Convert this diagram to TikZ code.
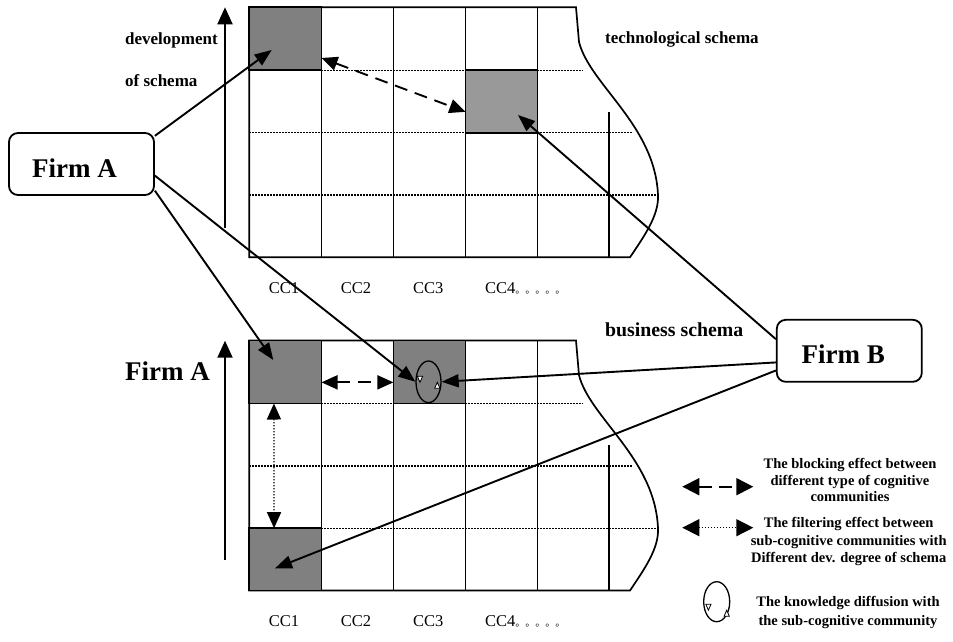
\documentclass[tikz,border=0pt]{standalone}
\usepackage{fontspec}
\setmainfont{Liberation Serif}
\newfontfamily\cjk{Noto Sans CJK SC}
\usetikzlibrary{arrows.meta,calc,shapes.geometric}
\definecolor{cdark}{gray}{0.5}
\definecolor{clight}{gray}{0.6}
\newcommand\schemagrid[1]{%
 \begin{scope}[shift={(0,#1)}]
  \draw[rowdots] (249.3,70.3) -- (582.7,70.3);
  \draw[rowdots] (249.3,132.7) -- (631.7,132.7);
  \draw[rowdots] (249.3,195) -- (656.7,195);
  \draw[gl] (576,7.3) -- (249.3,7.3) -- (249.3,257.3) -- (630,257.3)
     .. controls (645,235) and (659,215) .. (658,195)
     .. controls (655,125) and (590,85) .. (579,42) -- cycle;
  \foreach \cx in {321.5,393.5,465.5,537.5} \draw[gl] (\cx,7.3) -- (\cx,257.3);
  \draw[gl] (609.3,111.7) -- (609.3,257.3);
 \end{scope}}
% small open arrowheads of the diffusion symbol: #1 centre,
% #2,#3 tip of the downward one, #4,#5 tip of the upward one (offsets)
\newcommand\difftris[5]{%
  \draw[difftri] ($(#1)+(#2,#3)+(-2.6,-6)$) -- ($(#1)+(#2,#3)$) -- ($(#1)+(#2,#3)+(2.6,-6)$) -- cycle;
  \draw[difftri] ($(#1)+(#4,#5)+(-2.6,6)$) -- ($(#1)+(#4,#5)$) -- ($(#1)+(#4,#5)+(2.6,6)$) -- cycle;}
\begin{document}
\begin{tikzpicture}[x=1pt,y=-1pt,
  gl/.style={line width=1.7pt, line join=miter},
  rowdots/.style={line width=1.2pt, dash pattern=on 1.2pt off 1.8pt},
  cellbox/.style={draw, line width=1.7pt, inner sep=0pt, outer sep=0pt, minimum width=72.2pt, minimum height=63pt},
  firmbox/.style={draw, line width=1.8pt, rounded corners=9pt, inner sep=0pt, minimum width=145pt, minimum height=62pt, font=\fontsize{27}{30}\selectfont\bfseries},
  firmlbl/.style={inner sep=0pt, font=\fontsize{27}{30}\selectfont\bfseries},
  lbl/.style={inner sep=0pt, font=\fontsize{17}{20}\selectfont\bfseries},
  cclbl/.style={inner sep=0pt, anchor=base, font=\fontsize{16.5}{18}\selectfont},
  legtxt/.style={inner sep=0pt, align=center},
  conn/.style={line width=1.9pt, -{Triangle[length=17pt,width=13pt]}},
  axisarrow/.style={line width=1.9pt, -{Triangle[length=17pt,width=15pt]}},
  block/.style={line width=1.9pt, dash pattern=on 13pt off 8pt, {Triangle[length=16pt,width=14pt]}-{Triangle[length=16pt,width=14pt]}},
  filt/.style={line width=1.4pt, dash pattern=on 1.2pt off 1.8pt, {Triangle[length=16pt,width=14pt]}-{Triangle[length=16pt,width=14pt]}},
  blocklg/.style={line width=1.9pt, dash pattern=on 13pt off 7pt, {Triangle[length=17pt,width=17pt]}-{Triangle[length=17pt,width=17pt]}},
  filtlg/.style={line width=1.4pt, dash pattern=on 1.2pt off 1.8pt, {Triangle[length=17pt,width=17pt]}-{Triangle[length=17pt,width=17pt]}},
  diffell/.style={ellipse, draw, line width=1.3pt, inner sep=0pt},
  difftri/.style={draw, fill=white, line width=0.8pt, line join=miter}
]
\useasboundingbox (0,0) rectangle (953,642);

% grids
\schemagrid{0}
\schemagrid{333.2}

% shaded cells
\node[cellbox, fill=cdark] (tc1) at (285.4,38.8) {};
\node[cellbox, fill=clight, minimum height=62.4pt] (tc4) at (501.5,101.5) {};
\node[cellbox, fill=cdark] (bc1) at (285.4,372) {};
\node[cellbox, fill=cdark] (bc3) at (429.5,372) {};
\node[cellbox, fill=cdark, minimum height=62.3pt] (bc4) at (285.4,559.35) {};

% knowledge diffusion symbol in CC3
\node[diffell, minimum width=25pt, minimum height=41.6pt] (diff) at (428.5,381.8) {};

% axis arrows
\coordinate (ax1s) at (225,228);
\coordinate (ax1e) at (225,7.3);
\draw[axisarrow] (ax1s) -- (ax1e);
\coordinate (ax2s) at (225,560);
\coordinate (ax2e) at (225,340.7);
\draw[axisarrow] (ax2s) -- (ax2e);

% texts
\node[lbl, anchor=base west] (dev) at (125,45) {development};
\node[lbl, anchor=base west] (ofs) at (125,86) {of schema};
\node[lbl, anchor=base west] (tech) at (605,44) {technological schema};
\node[lbl, font=\fontsize{19.8}{22}\selectfont\bfseries, anchor=base west] (bus) at (605,336.7) {business schema};
\node[firmlbl, anchor=base west] (firmA2) at (125,380) {Firm A};

\node[cclbl] (t1) at (284,293.3) {CC1};
\node[cclbl] (t2) at (356,293.3) {CC2};
\node[cclbl] (t3) at (428.3,293.3) {CC3};
\node[cclbl, anchor=base west] (t4) at (485,293.3) {CC4{\cjk\fontsize{10}{10}\selectfont 。。。。。}};
\node[cclbl] (b1) at (284,626.7) {CC1};
\node[cclbl] (b2) at (356,626.7) {CC2};
\node[cclbl] (b3) at (428.3,626.7) {CC3};
\node[cclbl, anchor=base west] (b4) at (485,626.7) {CC4{\cjk\fontsize{10}{10}\selectfont 。。。。。}};

% firm boxes
\node[firmbox, text height=26.6pt, text depth=0pt] (firmA) at (81.5,164) {Firm A\kern14pt};
\node[firmbox, text height=25pt, text depth=0pt] (firmB) at (849.3,350.8) {Firm B\kern12pt};

% connectors
\coordinate (tipA1) at (271.7,50);
\draw[conn] (firmA.21) -- (tipA1);
\coordinate (tipA2) at (273.3,360);
\draw[conn] (firmA.-20) -- (tipA2);
\draw[conn] (firmA.-9) -- (diff.west);
\coordinate (tipB1) at (518,115);
\draw[conn] (firmB.171) -- (tipB1);
\draw[conn] (firmB.189) -- (diff.east);
\coordinate (tipB2) at (275,568.3);
\draw[conn] (firmB.195) -- (tipB2);

\difftris{diff.center}{-8.5}{0.5}{8.8}{0.5}

\draw[block] (tc1.-28.4) -- (tc4.196);
\draw[block] (bc1.-16) -- (bc3.196);
\draw[filt] (bc1.-110) -- (bc4.110);

% legend
\coordinate (lgA1) at (682.3,486.7);
\coordinate (lgA2) at (753.3,486.7);
\draw[blocklg] (lgA1) -- (lgA2);
\coordinate (lgB1) at (682.3,527.7);
\coordinate (lgB2) at (753.3,527.7);
\draw[filtlg] (lgB1) -- (lgB2);
\node[diffell, minimum width=26pt, minimum height=40pt] (lgdiff) at (716.7,601.7) {};
\difftris{lgdiff.center}{-8.3}{8.5}{10}{8.5}

\node[legtxt, font=\fontsize{14.5}{16.7}\selectfont\bfseries] (lt1) at (850,480) {The blocking effect between\\different type of cognitive\\communities};
\node[legtxt, font=\fontsize{14.5}{17.5}\selectfont\bfseries] (lt2) at (848.7,541.7) {The filtering effect between\\sub-cognitive communities with\\Different dev. degree of schema};
\node[legtxt, font=\fontsize{14.5}{18.5}\selectfont\bfseries] (lt3) at (848,612.5) {The knowledge diffusion with\\the sub-cognitive community};
\end{tikzpicture}
\end{document}
